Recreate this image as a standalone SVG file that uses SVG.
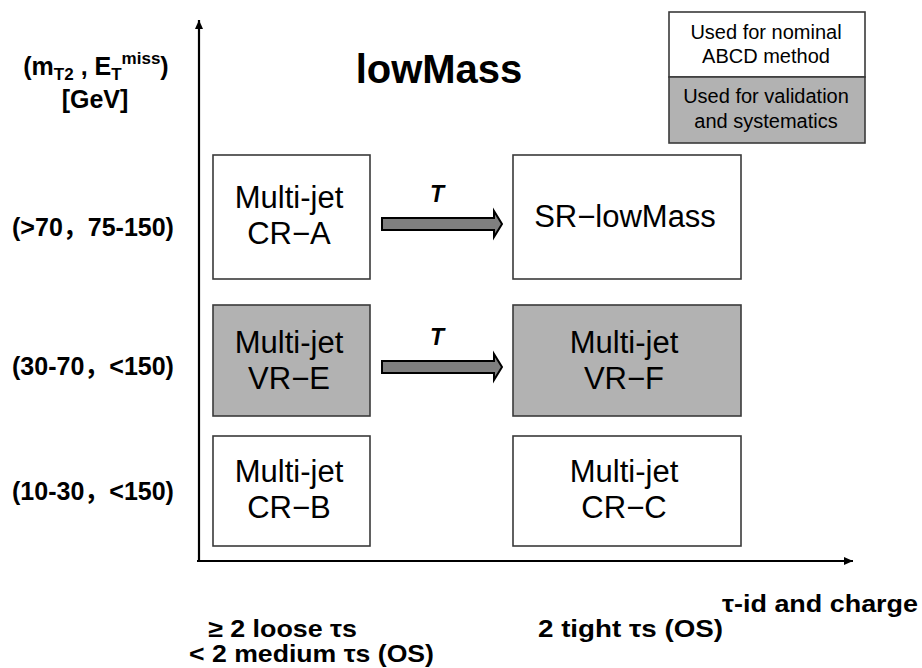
<svg xmlns="http://www.w3.org/2000/svg" width="922" height="668" viewBox="0 0 922 668">
<style>
  text { font-family: "Liberation Sans", Arial, "Noto Sans CJK SC", sans-serif; fill: #000; }
  .box { stroke: #3a3a3a; stroke-width: 1.6; }
  .white { fill: #ffffff; }
  .gray { fill: #b2b2b2; }
  .lbl { font-size: 31px; text-anchor: middle; }
  .leg { font-size: 20px; text-anchor: middle; }
  .ax { font-size: 25px; font-weight: bold; }
  .bx { font-size: 24px; font-weight: bold; }
  .axis { stroke: #000; stroke-width: 2.2; fill: none; }
  .blk { fill: #7f7f7f; stroke: #000; stroke-width: 2; stroke-linejoin: miter; }
  .t { font-size: 23px; font-weight: bold; font-style: italic; text-anchor: middle; }
</style>
<defs>
  <marker id="ah" markerWidth="10" markerHeight="10" refX="9" refY="5" orient="auto" markerUnits="userSpaceOnUse">
    <path d="M0,1 L9,5 L0,9 Z" fill="#000"/>
  </marker>
</defs>
<rect width="922" height="668" fill="#ffffff"/>

<g id="axes">
  <line class="axis" x1="199" y1="562" x2="199" y2="20" marker-end="url(#ah)"/>
  <line class="axis" x1="197" y1="561" x2="853" y2="561" marker-end="url(#ah)"/>
</g>

<g id="title">
  <text x="439" y="83" font-size="40" font-weight="bold" text-anchor="middle">lowMass</text>
</g>

<g id="y-axis-title">
  <text class="ax" x="96" y="75" text-anchor="middle">(m<tspan font-size="17" dy="5">T2</tspan><tspan dy="-5"> , E</tspan><tspan font-size="17" dy="5">T</tspan><tspan font-size="17" dy="-16">miss</tspan><tspan dy="11">)</tspan></text>
  <text class="ax" x="95" y="108" text-anchor="middle">[GeV]</text>
</g>

<g id="row-labels">
  <text class="ax" x="93" y="236" text-anchor="middle">(&gt;70，75-150)</text>
  <text class="ax" x="93" y="375" text-anchor="middle">(30-70，&lt;150)</text>
  <text class="ax" x="93" y="500" text-anchor="middle">(10-30，&lt;150)</text>
</g>

<g id="x-axis-labels">
  <text class="bx" x="722" y="612" textLength="196" lengthAdjust="spacingAndGlyphs">τ-id and charge</text>
  <text class="bx" x="208" y="637" textLength="149" lengthAdjust="spacingAndGlyphs">≥ 2 loose τs</text>
  <text class="bx" x="189" y="662" textLength="245" lengthAdjust="spacingAndGlyphs">&lt; 2 medium τs (OS)</text>
  <text class="bx" x="538" y="637" textLength="185" lengthAdjust="spacingAndGlyphs">2 tight τs (OS)</text>
</g>

<g id="legend">
  <rect class="box white" x="669" y="12" width="196" height="65"/>
  <rect class="box gray" x="669" y="77" width="196" height="66"/>
  <text class="leg" x="766" y="39">Used for nominal</text>
  <text class="leg" x="766" y="63">ABCD method</text>
  <text class="leg" x="766" y="103">Used for validation</text>
  <text class="leg" x="766" y="128">and systematics</text>
</g>

<g id="CR-A">
  <rect class="box white" x="213" y="155" width="157" height="124"/>
  <text class="lbl" x="289" y="208">Multi-jet</text>
  <text class="lbl" x="289" y="244">CR−A</text>
</g>
<g id="SR-lowMass">
  <rect class="box white" x="513" y="155" width="228" height="124"/>
  <text class="lbl" x="625" y="227">SR−lowMass</text>
</g>
<g id="VR-E">
  <rect class="box gray" x="213" y="305" width="157" height="111"/>
  <text class="lbl" x="289" y="353">Multi-jet</text>
  <text class="lbl" x="289" y="389">VR−E</text>
</g>
<g id="VR-F">
  <rect class="box gray" x="513" y="305" width="228" height="111"/>
  <text class="lbl" x="624" y="353">Multi-jet</text>
  <text class="lbl" x="624" y="389">VR−F</text>
</g>
<g id="CR-B">
  <rect class="box white" x="213" y="436" width="157" height="110"/>
  <text class="lbl" x="289" y="482">Multi-jet</text>
  <text class="lbl" x="289" y="518">CR−B</text>
</g>
<g id="CR-C">
  <rect class="box white" x="513" y="436" width="228" height="110"/>
  <text class="lbl" x="624" y="482">Multi-jet</text>
  <text class="lbl" x="624" y="518">CR−C</text>
</g>

<g id="connectors">
  <polygon class="blk" points="382,218 494,218 494,211 502,224 494,237 494,230 382,230"/>
  <text class="t" x="437" y="202">T</text>
  <polygon class="blk" points="382,361 494,361 494,354 502,367 494,380 494,373 382,373"/>
  <text class="t" x="437" y="345">T</text>
</g>
</svg>
